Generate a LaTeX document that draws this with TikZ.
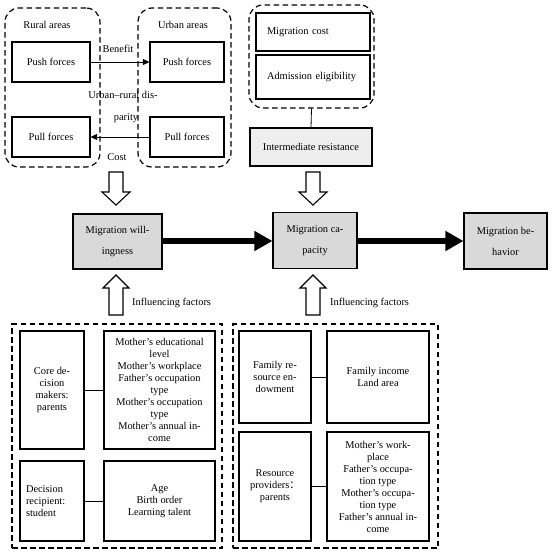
\documentclass[tikz,border=0pt]{standalone}
\usepackage{fontspec}
\setmainfont{Liberation Serif}
\newfontfamily\cjk{Noto Sans CJK SC}
\usetikzlibrary{arrows.meta,backgrounds}
\definecolor{boxgray}{HTML}{D9D9D9}
\definecolor{lightgray2}{HTML}{EEEEEE}
\tikzset{
  txt/.style={font=\fontsize{10.4pt}{12pt}\selectfont, inner sep=0pt},
  box/.style={draw, line width=1.1pt, txt, align=center, inner sep=2pt},
  graybox/.style={box, fill=boxgray},
  grp/.style={draw, line width=1.2pt, dash pattern=on 5.5pt off 3.5pt},
  rgrp/.style={grp, rounded corners=14pt},
  thin/.style={line width=0.8pt},
  smallarrow/.style={line width=0.8pt, -{Triangle[length=6.5pt,width=6pt]}},
  bigarrow/.style={line width=6.5pt, -{Triangle[length=18pt,width=19pt]}},
  hollow/.style={draw, line width=1.1pt, fill=white}
}
\newcommand{\dnarrow}[2]{% x, top
  \draw[hollow] (#1-7,#2) -- (#1+7,#2) -- (#1+7,#2+20) -- (#1+14,#2+20) -- (#1,#2+33) -- (#1-14,#2+20) -- (#1-7,#2+20) -- cycle;}
\newcommand{\uparrowbig}[2]{% x, tip
  \draw[hollow] (#1,#2) -- (#1+13,#2+13) -- (#1+7,#2+13) -- (#1+7,#2+40) -- (#1-7,#2+40) -- (#1-7,#2+13) -- (#1-13,#2+13) -- cycle;}
\begin{document}
\begin{tikzpicture}[x=1pt,y=-1pt]
\useasboundingbox (0,0) rectangle (550,552);
% top-left groups
\node[rgrp, minimum width=95pt, minimum height=159pt] (rural) at (52.5,87.5) {};
\node[rgrp, minimum width=93pt, minimum height=159pt] (urban) at (184.5,87.5) {};
\node[txt] (ruraltxt) at (47,25) {Rural areas};
\node[txt] (urbantxt) at (183,25) {Urban areas};
\node[box, minimum width=78pt, minimum height=40pt] (rpush) at (51,62) {Push forces};
\node[box, minimum width=78pt, minimum height=40pt] (rpull) at (51,137) {Pull forces};
\node[box, minimum width=74pt, minimum height=40pt] (upush) at (187,62) {Push forces};
\node[box, minimum width=74pt, minimum height=40pt] (upull) at (187,137) {Pull forces};
\draw[smallarrow] (rpush) -- (upush);
\draw[smallarrow] (upull) -- (rpull);
\node[txt] (benefit) at (118,49) {Benefit};
\node[txt, align=center] (disp) at (123,107) {Urban–rural dis-\\[10pt]\hspace*{6pt}parity};
\node[txt] (cost) at (117,157) {Cost};
% top-right group
\node[rgrp, minimum width=125pt, minimum height=103pt] (resgrp) at (311.5,56.5) {};
\node[box, minimum width=114pt, minimum height=38pt, text width=92pt, align=left] (mcost) at (313,32) {Migration cost};
\node[box, minimum width=114pt, minimum height=44pt, text width=92pt, align=left] (adm) at (313,77) {Admission eligibility};
\node[box, fill=lightgray2, minimum width=122pt, minimum height=38pt] (inter) at (311,147) {Intermediate resistance};
\draw[thin] (resgrp.south) -- (inter.north);
% hollow arrows
\dnarrow{116}{172}
\dnarrow{313}{172}
\uparrowbig{116}{275}
\uparrowbig{313}{275}
% main row
\node[graybox, minimum width=89pt, minimum height=55pt] (will) at (117.5,241.5) {Migration will-\\[9pt]ingness};
\node[graybox, minimum width=84pt, minimum height=56pt] (cap) at (315,240.5) {Migration ca-\\[9pt]pacity};
\node[graybox, minimum width=83pt, minimum height=56pt] (beh) at (505.5,241) {Migration be-\\[9pt]havior};
\begin{scope}[on background layer]
\draw[bigarrow] (will.east |- 0,241) -- (cap.west |- 0,241);
\draw[bigarrow] (cap.east |- 0,241) -- (beh.west |- 0,241);
\end{scope}
\node[txt, anchor=west] (inf1) at (132,303) {Influencing factors};
\node[txt, anchor=west] (inf2) at (330,303) {Influencing factors};
% bottom-left group
\node[grp, minimum width=210pt, minimum height=224pt] (lgrp) at (117,436) {};
\node[box, minimum width=64pt, minimum height=118pt] (core) at (52,390) {Core de-\\cision\\makers:\\parents};
\node[box, minimum width=111pt, minimum height=118pt] (medu) at (159.5,390) {Mother’s educational\\level\\Mother’s workplace\\Father’s occupation\\type\\Mother’s occupation\\type\\Mother’s annual in-\\come};
\node[box, minimum width=64pt, minimum height=80pt, text width=52pt, align=left] (dec) at (52,501) {Decision\\recipient:\\student};
\node[box, minimum width=111pt, minimum height=80pt] (age) at (159.5,501) {Age\\Birth order\\Learning talent};
\draw[thin] (core) -- (medu);
\draw[thin] (dec) -- (age);
% bottom-right group
\node[grp, minimum width=205pt, minimum height=224pt] (rgrp) at (335.5,436) {};
\node[box, minimum width=72pt, minimum height=92pt] (famres) at (275,377) {Family re-\\source en-\\dowment};
\node[box, minimum width=102pt, minimum height=92pt] (faminc) at (378,377) {Family income\\Land area};
\node[box, minimum width=72pt, minimum height=109pt] (resprov) at (275,486.5) {Resource\\providers{\cjk ：}\\parents};
\node[box, minimum width=102pt, minimum height=109pt] (mwork) at (378,486.5) {Mother’s work-\\place\\Father’s occupa-\\tion type\\Mother’s occupa-\\tion type\\Father’s annual in-\\come};
\draw[thin] (famres) -- (faminc);
\draw[thin] (resprov) -- (mwork);
\end{tikzpicture}
\end{document}
